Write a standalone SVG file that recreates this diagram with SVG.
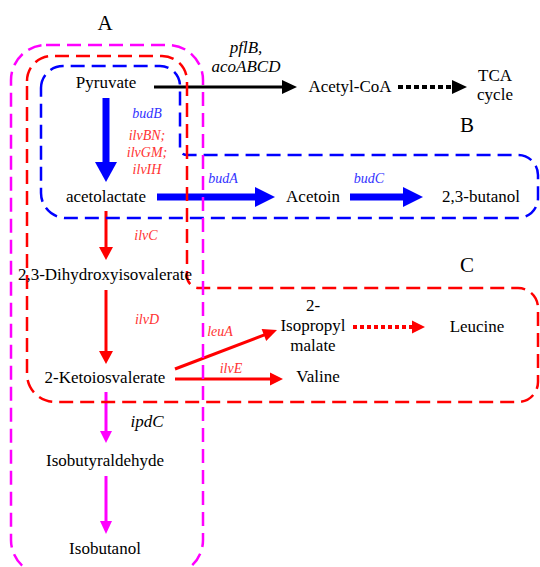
<svg xmlns="http://www.w3.org/2000/svg" width="540" height="567" viewBox="0 0 540 567">
<style>
text{font-family:"Liberation Serif","Times New Roman",serif;text-anchor:middle;fill:#000}
.n{font-size:17px}
.big{font-size:21px}
.lab{font-size:17px;font-style:italic}
.bl{font-size:14px;font-style:italic;fill:#3333ff}
.rl{font-size:14px;font-style:italic;fill:#ff3333}
.box{fill:none;stroke-width:2.5;stroke-dasharray:14 7}
</style>
<rect width="540" height="567" fill="#fff"/>
<g id="connectors">
  <g id="pyr-acoa">
    <line x1="154" y1="87" x2="284" y2="87" stroke="#000" stroke-width="3"/>
    <polygon points="282,80 297,87 282,94" fill="#000"/>
  </g>
  <g id="acoa-tca">
    <line x1="398" y1="87" x2="453" y2="87" stroke="#000" stroke-width="4" stroke-dasharray="5 3"/>
    <polygon points="452,80 467,87 452,94" fill="#000"/>
  </g>
  <g id="pyr-acl">
    <rect x="102.5" y="98" width="7" height="65" fill="#0000ff"/>
    <polygon points="95,162 117,162 106,182" fill="#0000ff"/>
  </g>
  <g id="acl-acetoin">
    <rect x="157" y="193.5" width="99" height="7" fill="#0000ff"/>
    <polygon points="255,187 275,197 255,207" fill="#0000ff"/>
  </g>
  <g id="acetoin-but">
    <rect x="350" y="193.5" width="54" height="7" fill="#0000ff"/>
    <polygon points="403,187 423,197 403,207" fill="#0000ff"/>
  </g>
  <g id="acl-dhiv">
    <line x1="106" y1="211" x2="106" y2="248" stroke="#ff0000" stroke-width="3"/>
    <polygon points="99,247 113,247 106,260" fill="#ff0000"/>
  </g>
  <g id="dhiv-kiv">
    <line x1="106" y1="290" x2="106" y2="352" stroke="#ff0000" stroke-width="3"/>
    <polygon points="99,351 113,351 106,364" fill="#ff0000"/>
  </g>
  <g id="kiv-ipm">
    <line x1="175" y1="369" x2="265" y2="334.6" stroke="#ff0000" stroke-width="3"/>
    <polygon points="266.2,341.1 277,330 261.6,328.9" fill="#ff0000"/>
  </g>
  <g id="kiv-val">
    <line x1="175" y1="379" x2="271" y2="379" stroke="#ff0000" stroke-width="3"/>
    <polygon points="270,372.5 283,379 270,385.5" fill="#ff0000"/>
  </g>
  <g id="ipm-leu">
    <line x1="353" y1="327" x2="413" y2="327" stroke="#ff0000" stroke-width="4" stroke-dasharray="4 3"/>
    <polygon points="412,320.5 425,327 412,333.5" fill="#ff0000"/>
  </g>
  <g id="kiv-iba">
    <line x1="106" y1="392" x2="106" y2="432" stroke="#ff00ff" stroke-width="3"/>
    <polygon points="100,431 112,431 106,443" fill="#ff00ff"/>
  </g>
  <g id="iba-ibol">
    <line x1="106" y1="476" x2="106" y2="522" stroke="#ff00ff" stroke-width="3"/>
    <polygon points="100,521 112,521 106,534" fill="#ff00ff"/>
  </g>
</g>
<g id="boxes">
  <path id="boxB" class="box" stroke="#0000ff" d="M41,88 A22 22 0 0 1 63,66 L160,66 A20 20 0 0 1 180,86 L180,148 Q180,155 188,155 L518,155 A20 20 0 0 1 538,175 L538,198 A20 20 0 0 1 518,218 L66,218 A25 25 0 0 1 41,193 Z"/>
  <path id="boxC" class="box" stroke="#ff0000" d="M27,81 A25 25 0 0 1 52,56 L162,56 A25 25 0 0 1 187,81 L187,276 A12 12 0 0 0 199,288 L518,288 A20 20 0 0 1 538,308 L538,382 A20 20 0 0 1 518,402 L55,402 A28 28 0 0 1 27,374 Z"/>
  <rect id="boxA" class="box" stroke="#ff00ff" x="11" y="45" width="192" height="530" rx="35"/>
</g>
<g id="labels">
  <text class="big" x="105" y="30">A</text>
  <text class="big" x="467" y="132">B</text>
  <text class="big" x="467" y="272">C</text>
  <text class="lab" x="246" y="53">pflB,</text>
  <text class="lab" x="246" y="72">acoABCD</text>
  <text class="bl" x="147" y="118">budB</text>
  <text class="rl" x="147" y="140">ilvBN;</text>
  <text class="rl" x="147" y="157">ilvGM;</text>
  <text class="rl" x="147" y="174">ilvIH</text>
  <text class="bl" x="223" y="183">budA</text>
  <text class="bl" x="369" y="183">budC</text>
  <text class="rl" x="146" y="240">ilvC</text>
  <text class="rl" x="147" y="324">ilvD</text>
  <text class="rl" x="220" y="336">leuA</text>
  <text class="rl" x="231" y="373">ilvE</text>
  <text class="lab" x="147" y="427">ipdC</text>
</g>
<g id="n-pyruvate"><text class="n" x="106" y="88">Pyruvate</text></g>
<g id="n-acetylcoa"><text class="n" x="350" y="92">Acetyl-CoA</text></g>
<g id="n-tca"><text class="n" x="495" y="81">TCA</text><text class="n" x="495" y="100">cycle</text></g>
<g id="n-acetolactate"><text class="n" x="106" y="202">acetolactate</text></g>
<g id="n-acetoin"><text class="n" x="313" y="202">Acetoin</text></g>
<g id="n-butanol"><text class="n" x="481" y="202">2,3-butanol</text></g>
<g id="n-dhiv"><text class="n" x="105" y="280">2,3-Dihydroxyisovalerate</text></g>
<g id="n-ipm"><text class="n" x="313" y="311">2-</text><text class="n" x="313" y="331">Isopropyl</text><text class="n" x="313" y="351">malate</text></g>
<g id="n-leucine"><text class="n" x="477" y="332">Leucine</text></g>
<g id="n-kiv"><text class="n" x="105" y="383">2-Ketoiosvalerate</text></g>
<g id="n-valine"><text class="n" x="318" y="382">Valine</text></g>
<g id="n-iba"><text class="n" x="105" y="466">Isobutyraldehyde</text></g>
<g id="n-ibol"><text class="n" x="105" y="554">Isobutanol</text></g>
</svg>
